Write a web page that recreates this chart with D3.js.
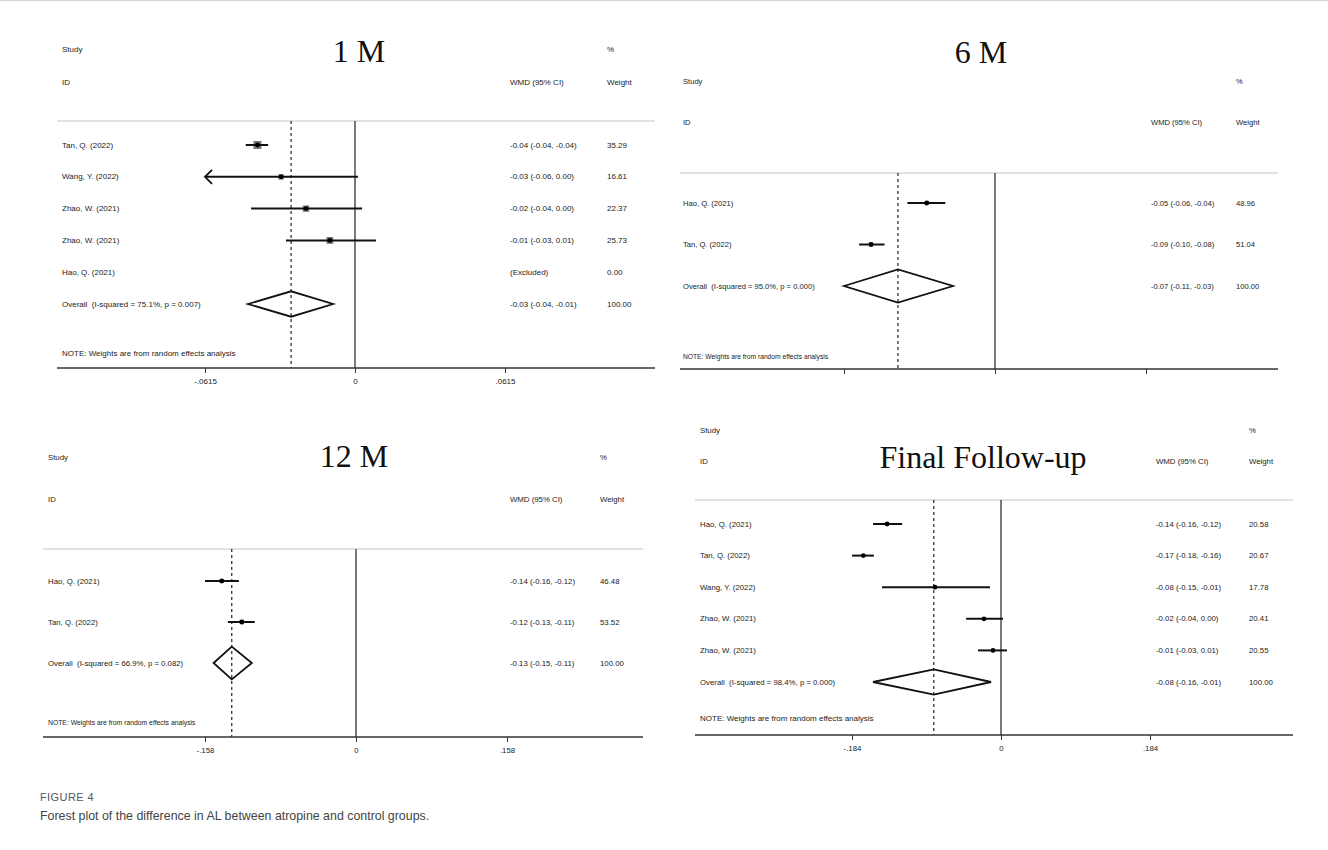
<!DOCTYPE html>
<html>
<head>
<meta charset="utf-8">
<script src="https://cdn.jsdelivr.net/npm/d3@7"></script>
<style>
  html, body { margin: 0; padding: 0; background: #fff; }
  svg { display: block; }
  text { font-family: "Liberation Sans", Arial, sans-serif; fill: #222; white-space: pre; }
</style>
</head>
<body>
<svg id="fig" width="1328" height="850"></svg>
<script>
// ---------- 1 M ----------
const studies1M = ["Tan, Q. (2022)", "Wang, Y. (2022)", "Zhao, W. (2021)", "Zhao, W. (2021)", "Hao, Q. (2021)"];
const est1M     = [-0.0400, -0.0303, -0.0201, -0.0103, null];
const lo1M      = [-0.0448, -0.0635, -0.0426, -0.0283, null];
const hi1M      = [-0.0356,  0.0012,  0.0029,  0.0086, null];
const weight1M  = [35.29, 16.61, 22.37, 25.73, 0.00];
const overall1M = [-0.0262, -0.0439, -0.0090];   // estimate, lower, upper
const hetero1M  = [75.1, 0.007];                  // I-squared %, p
const ticks1M   = [-0.0615, 0, 0.0615];
const tickLabels1M = ["-.0615", "0", ".0615"];

// ---------- 6 M ----------
const studies6M = ["Hao, Q. (2021)", "Tan, Q. (2022)"];
const est6M     = [-0.0497, -0.0903];
const lo6M      = [-0.0638, -0.0990];
const hi6M      = [-0.0362, -0.0805];
const weight6M  = [48.96, 51.04];
const overall6M = [-0.0707, -0.1100, -0.0306];
const hetero6M  = [95.0, 0.000];
const ticks6M   = [-0.11, 0, 0.11];
const tickLabels6M = ["", "", ""];

// ---------- 12 M ----------
const studies12M = ["Hao, Q. (2021)", "Tan, Q. (2022)"];
const est12M     = [-0.1405, -0.1195];
const lo12M      = [-0.1580, -0.1340];
const hi12M      = [-0.1226, -0.1060];
const weight12M  = [46.48, 53.52];
const overall12M = [-0.1300, -0.1490, -0.1090];
const hetero12M  = [66.9, 0.082];
const ticks12M   = [-0.158, 0, 0.158];
const tickLabels12M = ["-.158", "0", ".158"];

// ---------- Final follow-up ----------
const studiesFU = ["Hao, Q. (2021)", "Tan, Q. (2022)", "Wang, Y. (2022)", "Zhao, W. (2021)", "Zhao, W. (2021)"];
const estFU     = [-0.1407, -0.1700, -0.0815, -0.0210, -0.0099];
const loFU      = [-0.1580, -0.1840, -0.1470, -0.0430, -0.0284];
const hiFU      = [-0.1220, -0.1570, -0.0136,  0.0025,  0.0074];
const weightFU  = [20.58, 20.67, 17.78, 20.41, 20.55];
const overallFU = [-0.0830, -0.1580, -0.0123];
const heteroFU  = [98.4, 0.000];
const ticksFU   = [-0.184, 0, 0.184];
const tickLabelsFU = ["-.184", "0", ".184"];

const panelTitles = ["1 M", "6 M", "12 M", "Final Follow-up"];
const captionLabel = "FIGURE 4";
const captionText = "Forest plot of the difference in AL between atropine and control groups.";

// ---------- helpers ----------
const fmt2 = v => { const s = v.toFixed(2); return s === "-0.00" ? "0.00" : s; };
const svg = d3.select("#fig");

// thin frame line along the top of the figure
svg.append("line").attr("x1", 0).attr("x2", 1328).attr("y1", 0.5).attr("y2", 0.5)
  .attr("stroke", "#d6d6d6").attr("stroke-width", 1);

function drawPanel(d, L) {
  const g = svg.append("g");
  const x = d3.scaleLinear().domain([d.ticks[0], d.ticks[2]]).range(L.range);
  const nRows = d.studies.length + 1;
  const y = d3.scaleLinear().domain([0, nRows - 1]).range([L.row0, L.row0 + (nRows - 1) * L.step]);

  // title
  g.append("text").attr("x", L.titleX).attr("y", L.titleY).attr("text-anchor", "middle")
    .style("font-family", "'Liberation Serif', 'Times New Roman', serif")
    .style("font-size", "32px").style("fill", "#111").text(d.title);

  // column headers
  const hdr = (tx, ty, s) => g.append("text").attr("x", tx).attr("y", ty)
    .attr("dominant-baseline", "central").style("font-size", L.fRow + "px").text(s);
  hdr(L.studyX, L.h1, "Study");
  hdr(L.studyX, L.h2, "ID");
  hdr(L.colW, L.h1, "%");
  hdr(L.colWmd, L.h2, "WMD (95% CI)");
  hdr(L.colW, L.h2, "Weight");

  // separator under the header
  g.append("line").attr("x1", L.ax0).attr("x2", L.ax1).attr("y1", L.sepY).attr("y2", L.sepY)
    .attr("stroke", "#d8d8d8").attr("stroke-width", 1.5);

  // line of no effect
  g.append("line").attr("x1", x(0)).attr("x2", x(0)).attr("y1", L.sepY).attr("y2", L.axisY)
    .attr("stroke", "#333").attr("stroke-width", 1.3);

  // pooled-estimate reference line
  g.append("line").attr("x1", x(d.overall[0])).attr("x2", x(d.overall[0]))
    .attr("y1", L.sepY).attr("y2", L.axisY)
    .attr("stroke", "#222").attr("stroke-width", 1.2).attr("stroke-dasharray", "3,3");

  // study rows
  d.studies.forEach((name, i) => {
    const yy = y(i);
    g.append("text").attr("x", L.studyX).attr("y", yy).attr("dominant-baseline", "central")
      .style("font-size", L.fRow + "px").text(name);
    const e = d.est[i];
    const ciText = e === null ? "(Excluded)" : `${fmt2(e)} (${fmt2(d.lo[i])}, ${fmt2(d.hi[i])})`;
    g.append("text").attr("x", L.colWmd).attr("y", yy).attr("dominant-baseline", "central")
      .style("font-size", L.fRow + "px").text(ciText);
    g.append("text").attr("x", L.colW).attr("y", yy).attr("dominant-baseline", "central")
      .style("font-size", L.fRow + "px").text(d.weight[i].toFixed(2));
    if (e === null) return;

    // weight box
    const side = L.boxK * Math.sqrt(d.weight[i]);
    g.append("rect").attr("x", x(e) - side / 2).attr("y", yy - side / 2)
      .attr("width", side).attr("height", side).attr("fill", "#7a7a7a");

    const clipLo = d.lo[i] < d.ticks[0];
    const clipHi = d.hi[i] > d.ticks[2];
    const xl = x(Math.max(d.lo[i], d.ticks[0]));
    const xh = x(Math.min(d.hi[i], d.ticks[2]));
    g.append("line").attr("x1", xl).attr("x2", xh).attr("y1", yy).attr("y2", yy)
      .attr("stroke", "#111").attr("stroke-width", 2);
    if (clipLo) {
      g.append("path").attr("d", `M${xl + 7},${yy - 7}L${xl},${yy}L${xl + 7},${yy + 7}`)
        .attr("fill", "none").attr("stroke", "#111").attr("stroke-width", 1.8);
    }
    if (clipHi) {
      g.append("path").attr("d", `M${xh - 7},${yy - 7}L${xh},${yy}L${xh - 7},${yy + 7}`)
        .attr("fill", "none").attr("stroke", "#111").attr("stroke-width", 1.8);
    }
    g.append("circle").attr("cx", x(e)).attr("cy", yy).attr("r", 2.4).attr("fill", "#000");
  });

  // overall row
  const yo = y(nRows - 1);
  const [oe, ol, oh] = d.overall;
  g.append("text").attr("x", L.studyX).attr("y", yo).attr("dominant-baseline", "central")
    .style("font-size", L.fRow + "px")
    .text(`Overall  (I-squared = ${d.hetero[0].toFixed(1)}%, p = ${d.hetero[1].toFixed(3)})`);
  g.append("text").attr("x", L.colWmd).attr("y", yo).attr("dominant-baseline", "central")
    .style("font-size", L.fRow + "px").text(`${fmt2(oe)} (${fmt2(ol)}, ${fmt2(oh)})`);
  g.append("text").attr("x", L.colW).attr("y", yo).attr("dominant-baseline", "central")
    .style("font-size", L.fRow + "px").text((100).toFixed(2));
  const h = L.step * 0.4;
  g.append("path")
    .attr("d", `M${x(ol)},${yo}L${x(oe)},${yo - h}L${x(oh)},${yo}L${x(oe)},${yo + h}Z`)
    .attr("fill", "none").attr("stroke", "#111").attr("stroke-width", 1.8);

  // note
  g.append("text").attr("x", L.studyX).attr("y", L.noteY).attr("dominant-baseline", "central")
    .style("font-size", L.fNote + "px").text("NOTE: Weights are from random effects analysis");

  // x axis
  const axis = d3.axisBottom(x).tickValues(d.ticks)
    .tickFormat((v, i) => d.tickLabels[i]).tickSize(5).tickSizeOuter(0).tickPadding(5);
  const ag = g.append("g").attr("transform", `translate(0,${L.axisY})`).call(axis);
  ag.select(".domain").remove();
  ag.selectAll(".tick line").attr("stroke", "#333").attr("stroke-width", 1);
  ag.selectAll(".tick text").style("font-size", L.fRow + "px")
    .style("font-family", "'Liberation Sans', Arial, sans-serif").attr("fill", "#222");
  g.append("line").attr("x1", L.ax0).attr("x2", L.ax1).attr("y1", L.axisY).attr("y2", L.axisY)
    .attr("stroke", "#333").attr("stroke-width", 1.4);
}

drawPanel(
  { title: panelTitles[0], studies: studies1M, est: est1M, lo: lo1M, hi: hi1M, weight: weight1M,
    overall: overall1M, hetero: hetero1M, ticks: ticks1M, tickLabels: tickLabels1M },
  { titleX: 359, titleY: 62, studyX: 62, colWmd: 510, colW: 607, h1: 49, h2: 82, sepY: 121,
    axisY: 368, ax0: 57, ax1: 655, range: [205, 505], row0: 145, step: 31.8, noteY: 353,
    fRow: 8, fNote: 8, boxK: 1.35 });

drawPanel(
  { title: panelTitles[1], studies: studies6M, est: est6M, lo: lo6M, hi: hi6M, weight: weight6M,
    overall: overall6M, hetero: hetero6M, ticks: ticks6M, tickLabels: tickLabels6M },
  { titleX: 981, titleY: 63, studyX: 683, colWmd: 1151, colW: 1236, h1: 81, h2: 122, sepY: 173,
    axisY: 369, ax0: 680, ax1: 1278, range: [844, 1146], row0: 203, step: 41.5, noteY: 356,
    fRow: 7.6, fNote: 6.7, boxK: 0.6 });

drawPanel(
  { title: panelTitles[2], studies: studies12M, est: est12M, lo: lo12M, hi: hi12M, weight: weight12M,
    overall: overall12M, hetero: hetero12M, ticks: ticks12M, tickLabels: tickLabels12M },
  { titleX: 354, titleY: 467, studyX: 48, colWmd: 510, colW: 600, h1: 457, h2: 499, sepY: 549,
    axisY: 737, ax0: 43, ax1: 643, range: [205, 507], row0: 581, step: 41, noteY: 722,
    fRow: 7.8, fNote: 6.8, boxK: 0.6 });

drawPanel(
  { title: panelTitles[3], studies: studiesFU, est: estFU, lo: loFU, hi: hiFU, weight: weightFU,
    overall: overallFU, hetero: heteroFU, ticks: ticksFU, tickLabels: tickLabelsFU },
  { titleX: 983, titleY: 468, studyX: 700, colWmd: 1156, colW: 1249, h1: 430, h2: 461, sepY: 500,
    axisY: 735, ax0: 695, ax1: 1293, range: [852, 1150], row0: 524, step: 31.6, noteY: 718,
    fRow: 7.8, fNote: 8, boxK: 0.6 });

// caption
svg.append("text").attr("x", 40).attr("y", 801)
  .style("font-size", "11px").style("fill", "#555").style("letter-spacing", "0.4px")
  .text(captionLabel);
svg.append("text").attr("x", 40).attr("y", 820)
  .style("font-size", "12.4px").style("fill", "#444").text(captionText);
</script>
</body>
</html>
